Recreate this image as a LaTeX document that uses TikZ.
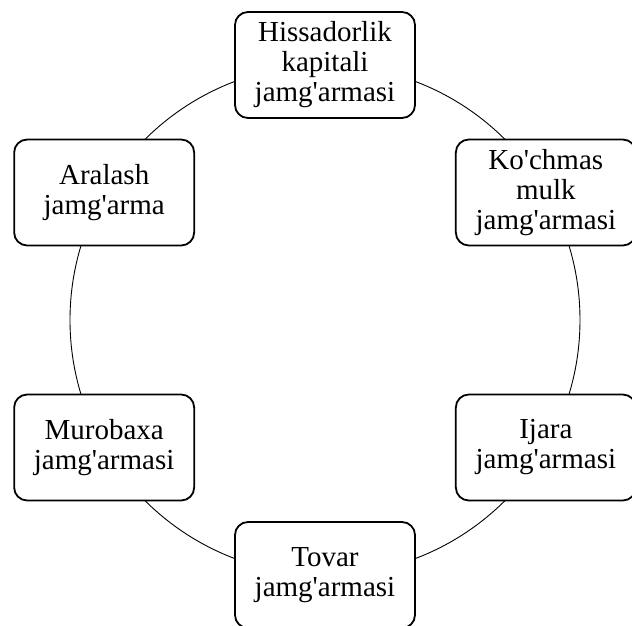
\documentclass[tikz,border=0pt]{standalone}
\usepackage{fontspec}
\newfontfamily\rom{Liberation Serif}
\begin{document}
\begin{tikzpicture}[x=1pt,y=1pt]
\def\r{255}
\tikzset{s/.style={draw,fill=white,line width=1.8pt,rounded corners=13pt,minimum width=180pt,minimum height=106pt,inner sep=2pt,align=center,font=\rom\fontsize{29}{30}\selectfont}}
\useasboundingbox(-325,-305)rectangle(307,320);
\path(0,0)coordinate(O);
\draw[line width=0.9pt](O)circle(\r);
\foreach \g/\n/\t in {
90/H/{Hissadorlik\\kapitali\\jamg'armasi},
30/K/{Ko'chmas\\mulk\\jamg'armasi},
-30/I/{Ijara\\jamg'armasi},
-90/T/{Tovar\\jamg'armasi},
-150/M/{Murobaxa\\jamg'armasi},
150/A/{Aralash\\jamg'arma}}
\path(O)++(\g:\r)node[s](\n){\t};
\end{tikzpicture}
\end{document}
